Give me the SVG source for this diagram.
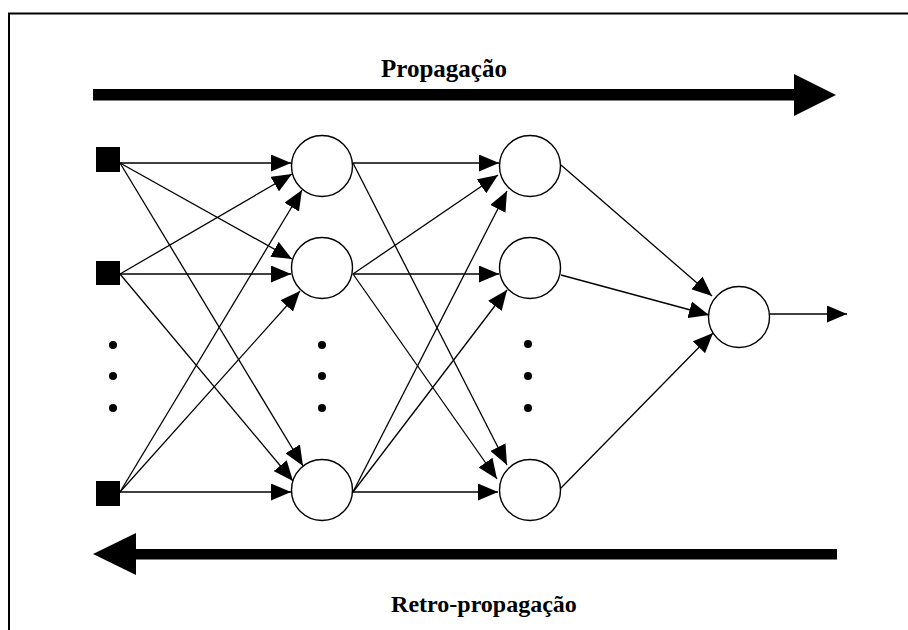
<svg xmlns="http://www.w3.org/2000/svg" width="908" height="630" viewBox="0 0 908 630">
  <style>
    .frame { fill: none; stroke: #000; stroke-width: 2; }
    .link { stroke: #000; stroke-width: 1.3; fill: none; marker-end: url(#head); }
    .neuron { fill: #fff; stroke: #000; stroke-width: 1.4; }
    .input { fill: #000; }
    .dot { fill: #000; }
    .big { fill: #000; }
    .label { font-family: "Liberation Serif", "Times New Roman", serif; font-weight: bold; fill: #000; text-anchor: middle; }
  </style>
  <defs>
    <marker id="head" markerUnits="userSpaceOnUse" markerWidth="20" markerHeight="17" refX="20" refY="8.5" orient="auto" viewBox="0 0 20 17">
      <path d="M0,0 L20,8.5 L0,17 z" fill="#000"/>
    </marker>
  </defs>

  <rect width="908" height="630" fill="#fff"/>
  <!-- outer frame (open at right and bottom) -->
  <path class="frame" d="M9,630 V13.5 H908"/>

  <!-- forward pass arrow -->
  <g id="forward">
    <rect class="big" x="93" y="89" width="702" height="11.5"/>
    <polygon class="big" points="794,74 836,95 794,116"/>
    <text class="label" x="444" y="77" font-size="25">Propagação</text>
  </g>

  <!-- backward pass arrow -->
  <g id="backward">
    <rect class="big" x="135" y="549" width="702" height="10.5"/>
    <polygon class="big" points="93,554 136,533 136,575"/>
    <text class="label" x="484" y="612" font-size="24">Retro-propagação</text>
  </g>

  <g id="connectors">
    <!-- input layer to first hidden layer -->
    <line class="link" x1="120" y1="163" x2="291" y2="163"/>
    <line class="link" x1="120" y1="163" x2="292" y2="259"/>
    <line class="link" x1="120" y1="163" x2="303" y2="466"/>
    <line class="link" x1="120" y1="274" x2="292" y2="174"/>
    <line class="link" x1="120" y1="274" x2="291" y2="274"/>
    <line class="link" x1="120" y1="274" x2="293" y2="481"/>
    <line class="link" x1="120" y1="492" x2="302" y2="190"/>
    <line class="link" x1="120" y1="492" x2="300" y2="291"/>
    <line class="link" x1="120" y1="492" x2="291" y2="492"/>
    <!-- first hidden layer to second hidden layer -->
    <line class="link" x1="353" y1="163" x2="499" y2="163"/>
    <line class="link" x1="353" y1="163" x2="507" y2="465"/>
    <line class="link" x1="353" y1="274" x2="498" y2="175"/>
    <line class="link" x1="353" y1="274" x2="499" y2="274"/>
    <line class="link" x1="353" y1="274" x2="497" y2="479"/>
    <line class="link" x1="353" y1="492" x2="507" y2="191"/>
    <line class="link" x1="353" y1="492" x2="507" y2="290"/>
    <line class="link" x1="353" y1="492" x2="498" y2="492"/>
    <!-- second hidden layer to output -->
    <line class="link" x1="561" y1="165" x2="712" y2="296"/>
    <line class="link" x1="561" y1="275" x2="709" y2="315"/>
    <line class="link" x1="560" y1="489" x2="713" y2="333"/>
    <!-- output signal -->
    <line class="link" x1="769" y1="314" x2="847" y2="314"/>
  </g>

  <!-- input units -->
  <g id="in1"><rect class="input" x="96" y="147" width="24" height="25"/></g>
  <g id="in2"><rect class="input" x="96" y="261" width="24" height="24"/></g>
  <g id="in3"><rect class="input" x="96" y="481" width="24" height="25"/></g>

  <!-- first hidden layer -->
  <g id="h1"><circle class="neuron" cx="322" cy="166" r="30.5"/></g>
  <g id="h2"><circle class="neuron" cx="322" cy="268" r="30.5"/></g>
  <g id="h3"><circle class="neuron" cx="322" cy="490" r="30.5"/></g>

  <!-- second hidden layer -->
  <g id="g1"><circle class="neuron" cx="530" cy="166" r="30.5"/></g>
  <g id="g2"><circle class="neuron" cx="530" cy="268" r="30.5"/></g>
  <g id="g3"><circle class="neuron" cx="530" cy="490" r="30.5"/></g>

  <!-- output unit -->
  <g id="out"><circle class="neuron" cx="739" cy="317" r="30.5"/></g>

  <!-- ellipsis dots between units -->
  <g id="ellipsis">
    <circle class="dot" cx="113" cy="345" r="4"/>
    <circle class="dot" cx="113" cy="376" r="4"/>
    <circle class="dot" cx="113" cy="408" r="4"/>
    <circle class="dot" cx="322" cy="345" r="4"/>
    <circle class="dot" cx="322" cy="376" r="4"/>
    <circle class="dot" cx="322" cy="408" r="4"/>
    <circle class="dot" cx="528" cy="344" r="4"/>
    <circle class="dot" cx="528" cy="376" r="4"/>
    <circle class="dot" cx="528" cy="408" r="4"/>
  </g>
</svg>
